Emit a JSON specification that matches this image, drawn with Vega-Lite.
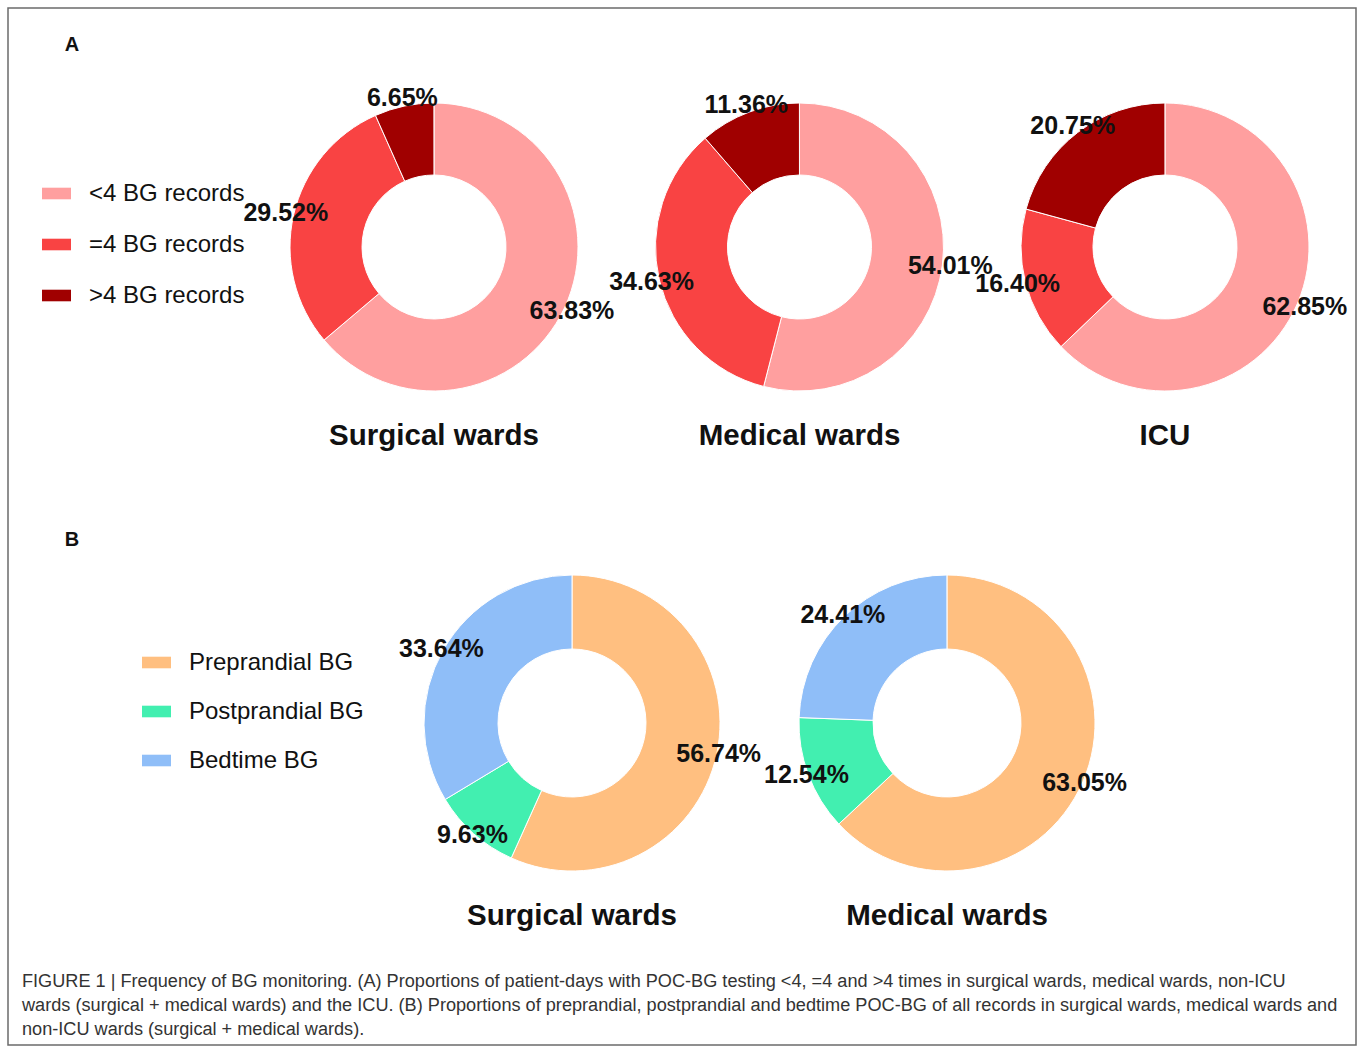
{
  "$schema": "https://vega.github.io/schema/vega-lite/v6.json",
  "width": 1348,
  "height": 1037,
  "autosize": {"type": "none"},
  "padding": {"left": 8, "top": 8, "right": 2, "bottom": 2},
  "background": "white",
  "config": {
    "view": {"stroke": "#6b6b6b", "strokeWidth": 1.5},
    "font": "Liberation Sans",
    "legend": {
      "orient": "none",
      "title": null,
      "padding": 0,
      "symbolType": "M-1,-0.4H1V0.4H-1Z",
      "symbolSize": 841,
      "symbolStrokeWidth": 0,
      "labelFontSize": 24,
      "labelFont": "Liberation Sans",
      "labelColor": "#111111",
      "labelOffset": 18,
      "labelLimit": 400
    }
  },
  "title": {
    "text": [
      "FIGURE 1 | Frequency of BG monitoring. (A) Proportions of patient-days with POC-BG testing <4, =4 and >4 times in surgical wards, medical wards, non-ICU",
      "wards (surgical + medical wards) and the ICU. (B) Proportions of preprandial, postprandial and bedtime POC-BG of all records in surgical wards, medical wards and",
      "non-ICU wards (surgical + medical wards)."
    ],
    "orient": "bottom",
    "anchor": "start",
    "frame": "group",
    "offset": -72,
    "dx": 14,
    "fontSize": 18.15,
    "fontWeight": "normal",
    "lineHeight": 24,
    "color": "#333333",
    "font": "Liberation Sans"
  },
  "datasets": {
    "a": [
      {"panel": "A", "ward": "Surgical wards", "cat": "<4 BG records", "value": 0.6383},
      {"panel": "A", "ward": "Surgical wards", "cat": "=4 BG records", "value": 0.2952},
      {"panel": "A", "ward": "Surgical wards", "cat": ">4 BG records", "value": 0.0665},
      {"panel": "A", "ward": "Medical wards", "cat": "<4 BG records", "value": 0.5401},
      {"panel": "A", "ward": "Medical wards", "cat": "=4 BG records", "value": 0.3463},
      {"panel": "A", "ward": "Medical wards", "cat": ">4 BG records", "value": 0.1136},
      {"panel": "A", "ward": "ICU", "cat": "<4 BG records", "value": 0.6285},
      {"panel": "A", "ward": "ICU", "cat": "=4 BG records", "value": 0.1640},
      {"panel": "A", "ward": "ICU", "cat": ">4 BG records", "value": 0.2075}
    ],
    "b": [
      {"panel": "B", "ward": "Surgical wards", "cat": "Preprandial BG", "value": 0.5674},
      {"panel": "B", "ward": "Surgical wards", "cat": "Postprandial BG", "value": 0.0963},
      {"panel": "B", "ward": "Surgical wards", "cat": "Bedtime BG", "value": 0.3364},
      {"panel": "B", "ward": "Medical wards", "cat": "Preprandial BG", "value": 0.6305},
      {"panel": "B", "ward": "Medical wards", "cat": "Postprandial BG", "value": 0.1254},
      {"panel": "B", "ward": "Medical wards", "cat": "Bedtime BG", "value": 0.2441}
    ]
  },
  "layer": [
    {
      "data": {"name": "a"},
      "encoding": {
        "x": {"field": "ward", "type": "nominal", "axis": null,
              "scale": {"type": "point", "domain": ["Surgical wards", "Medical wards", "ICU"], "range": [426, 1157], "padding": 0}},
        "y": {"field": "panel", "type": "nominal", "axis": null,
              "scale": {"type": "point", "domain": ["A", "B"], "range": [239, 715], "padding": 0}},
        "theta": {"field": "value", "type": "quantitative", "stack": true},
        "order": {"field": "cat", "sort": "ascending"}
      },
      "layer": [
        {
          "transform": [{"filter": "datum.ward === 'Surgical wards'"}],
          "layer": [
            {"mark": {"type": "arc", "outerRadius": 144, "innerRadius": 72, "stroke": "white", "strokeWidth": 1},
             "encoding": {"color": {"field": "cat", "type": "nominal",
                      "scale": {"domain": ["<4 BG records", "=4 BG records", ">4 BG records"], "range": ["#ff9f9f", "#f94343", "#a00000"]},
                      "legend": {"legendX": 34, "legendY": 171, "rowPadding": 24}}}},
            {"mark": {"type": "text", "radius": 152, "fontSize": 25, "fontWeight": "bold", "color": "#111111"},
             "encoding": {"text": {"field": "value", "type": "quantitative", "format": ".2%"}}}
          ]
        },
        {
          "transform": [{"filter": "datum.ward === 'Medical wards'"}],
          "layer": [
            {"mark": {"type": "arc", "outerRadius": 144, "innerRadius": 72, "stroke": "white", "strokeWidth": 1},
             "encoding": {"color": {"field": "cat", "type": "nominal"}}},
            {"mark": {"type": "text", "radius": 152, "fontSize": 25, "fontWeight": "bold", "color": "#111111"},
             "encoding": {"text": {"field": "value", "type": "quantitative", "format": ".2%"}}}
          ]
        },
        {
          "transform": [{"filter": "datum.ward === 'ICU'"}],
          "layer": [
            {"mark": {"type": "arc", "outerRadius": 144, "innerRadius": 72, "stroke": "white", "strokeWidth": 1},
             "encoding": {"color": {"field": "cat", "type": "nominal"}}},
            {"mark": {"type": "text", "radius": 152, "fontSize": 25, "fontWeight": "bold", "color": "#111111"},
             "encoding": {"text": {"field": "value", "type": "quantitative", "format": ".2%"}}}
          ]
        },
        {
          "transform": [{"aggregate": [{"op": "count", "as": "n"}], "groupby": ["ward", "panel"]}],
          "mark": {"type": "text", "dy": 189, "fontSize": 29.5, "fontWeight": "bold", "color": "#111111"},
          "encoding": {"text": {"field": "ward", "type": "nominal"}, "theta": null, "order": null}
        }
      ]
    },
    {
      "data": {"name": "b"},
      "encoding": {
        "x": {"field": "ward", "type": "nominal", "axis": null,
              "scale": {"type": "point", "domain": ["Surgical wards", "Medical wards"], "range": [564, 939], "padding": 0}},
        "y": {"field": "panel", "type": "nominal", "axis": null,
              "scale": {"type": "point", "domain": ["A", "B"], "range": [239, 715], "padding": 0}},
        "theta": {"field": "value", "type": "quantitative", "stack": true},
        "order": {"field": "cat", "sort": "descending"}
      },
      "layer": [
        {
          "transform": [{"filter": "datum.ward === 'Surgical wards'"}],
          "layer": [
            {"mark": {"type": "arc", "outerRadius": 148, "innerRadius": 74, "stroke": "white", "strokeWidth": 1},
             "encoding": {"color": {"field": "cat", "type": "nominal",
                      "scale": {"domain": ["Preprandial BG", "Postprandial BG", "Bedtime BG"], "range": ["#ffbf80", "#42efb0", "#8fbef8"]},
                      "legend": {"legendX": 134, "legendY": 640, "rowPadding": 22}}}},
            {"mark": {"type": "text", "radius": 150, "fontSize": 25, "fontWeight": "bold", "color": "#111111"},
             "encoding": {"text": {"field": "value", "type": "quantitative", "format": ".2%"}}}
          ]
        },
        {
          "transform": [{"filter": "datum.ward === 'Medical wards'"}],
          "layer": [
            {"mark": {"type": "arc", "outerRadius": 148, "innerRadius": 74, "stroke": "white", "strokeWidth": 1},
             "encoding": {"color": {"field": "cat", "type": "nominal"}}},
            {"mark": {"type": "text", "radius": 150, "fontSize": 25, "fontWeight": "bold", "color": "#111111"},
             "encoding": {"text": {"field": "value", "type": "quantitative", "format": ".2%"}}}
          ]
        },
        {
          "transform": [{"aggregate": [{"op": "count", "as": "n"}], "groupby": ["ward", "panel"]}],
          "mark": {"type": "text", "dy": 193, "fontSize": 29.5, "fontWeight": "bold", "color": "#111111"},
          "encoding": {"text": {"field": "ward", "type": "nominal"}, "theta": null, "order": null}
        }
      ]
    },
    {
      "data": {"values": [{"letter": "A"}]},
      "mark": {"type": "text", "x": 64, "y": 37, "fontSize": 20, "fontWeight": "bold", "color": "#111111"},
      "encoding": {"text": {"field": "letter", "type": "nominal"}}
    },
    {
      "data": {"values": [{"letter": "B"}]},
      "mark": {"type": "text", "x": 64, "y": 532, "fontSize": 20, "fontWeight": "bold", "color": "#111111"},
      "encoding": {"text": {"field": "letter", "type": "nominal"}}
    }
  ],
  "resolve": {"scale": {"x": "independent", "color": "independent"}}
}
